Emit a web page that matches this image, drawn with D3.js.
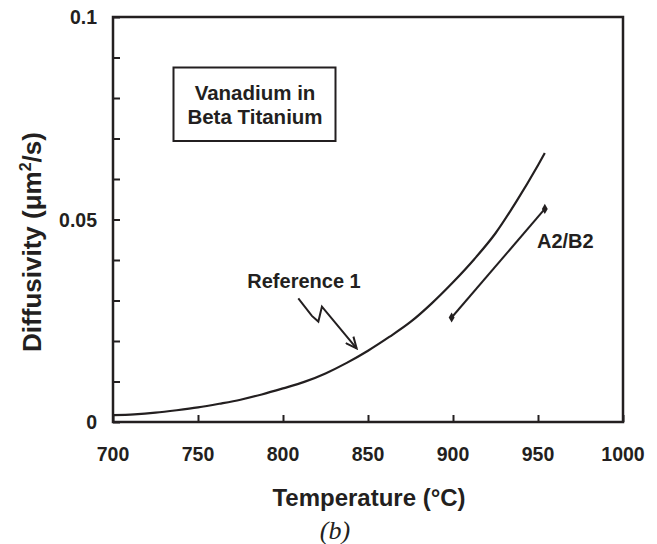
<!DOCTYPE html>
<html><head><meta charset="utf-8">
<script src="https://cdn.jsdelivr.net/npm/d3@7"></script>
<style>body{margin:0;background:#fff}svg{display:block}text{font-family:"Liberation Sans",Arial,sans-serif;font-weight:bold;fill:#231f20}</style>
</head><body>
<script>
const refTemps = [700,712.5,725,737.5,750,762.5,775,787.5,800,812.5,825,837.5,850,862.5,875,887.5,900,912.5,925,937.5,950,954];
const refValues = [0.0017,0.0019,0.0023,0.0029,0.0036,0.0045,0.0055,0.0068,0.0083,0.0099,0.0120,0.0146,0.0176,0.0210,0.0247,0.0293,0.0345,0.0402,0.0466,0.0546,0.0634,0.0664];
const a2b2Temps = [899.2, 954];
const a2b2Values = [0.0258, 0.0526];
const xTicks = [700,750,800,850,900,950,1000];
const yMinorTicks = [0,0.01,0.02,0.03,0.04,0.05,0.06,0.07,0.08,0.09,0.1];
const yLabelTicks = [0,0.05,0.1];
const yTickLabels = ["0","0.05","0.1"];
const arrowTemps = [809,817,820.8,822.9,843.3];
const arrowValues = [0.0305,0.0262,0.0248,0.0285,0.0182];

const W=657,H=544;
const svg=d3.select("body").append("svg").attr("width",W).attr("height",H);
const x=d3.scaleLinear().domain([700,1000]).range([113,623]);
const y=d3.scaleLinear().domain([0,0.1]).range([422,17]);
const ink="#231f20";

const yAxis=d3.axisRight(y).tickValues(yMinorTicks).tickSize(7).tickFormat("");
const gy=svg.append("g").attr("transform","translate(113,0)").call(yAxis);
gy.select(".domain").remove();
gy.selectAll("line").attr("stroke",ink).attr("stroke-width",2);
const xAxis=d3.axisTop(x).tickValues(xTicks).tickSize(7).tickFormat("");
const gx=svg.append("g").attr("transform","translate(0,422)").call(xAxis);
gx.select(".domain").remove();
gx.selectAll("line").attr("stroke",ink).attr("stroke-width",2);

svg.append("rect").attr("x",x(700)).attr("y",y(0.1)).attr("width",x(1000)-x(700)).attr("height",y(0)-y(0.1))
  .attr("fill","none").attr("stroke",ink).attr("stroke-width",2.5);

svg.selectAll(".xl").data(xTicks).enter().append("text").attr("x",d=>x(d)).attr("y",461)
  .attr("text-anchor","middle").attr("font-size",19.5).text(d=>d);
svg.selectAll(".yl").data(yLabelTicks).enter().append("text").attr("x",97).attr("y",d=>y(d)+7)
  .attr("text-anchor","end").attr("font-size",19.5).text((d,i)=>yTickLabels[i]);

svg.append("text").attr("x",369).attr("y",506).attr("text-anchor","middle").attr("font-size",24).text("Temperature (°C)");
const yt=svg.append("text").attr("transform","translate(41,242) rotate(-90)").attr("text-anchor","middle").attr("font-size",26);
yt.append("tspan").text("Diffusivity (μm");
yt.append("tspan").attr("font-size",16).attr("dy",-10).text("2");
yt.append("tspan").attr("dy",10).text("/s)");
svg.append("text").attr("x",335).attr("y",539).attr("text-anchor","middle").attr("font-size",26)
  .style("font-family","'Liberation Serif','Times New Roman',serif").style("font-weight","normal").style("font-style","italic").text("(b)");

const line=d3.line().x(d=>x(d[0])).y(d=>y(d[1])).curve(d3.curveMonotoneX);
svg.append("path").datum(refTemps.map((t,i)=>[t,refValues[i]])).attr("d",line)
  .attr("fill","none").attr("stroke",ink).attr("stroke-width",2.2);

const ab=a2b2Temps.map((t,i)=>[t,a2b2Values[i]]);
svg.append("path").datum(ab).attr("d",d3.line().x(d=>x(d[0])).y(d=>y(d[1])))
  .attr("fill","none").attr("stroke",ink).attr("stroke-width",2);
svg.selectAll(".pt").data(ab).enter().append("path")
  .attr("transform",d=>`translate(${x(d[0])},${y(d[1])})`)
  .attr("d",d3.symbol().type(d3.symbolDiamond).size(30)).attr("fill",ink);
svg.append("text").attr("x",537).attr("y",248).attr("font-size",20).text("A2/B2");

svg.append("rect").attr("x",173.5).attr("y",67.5).attr("width",162).attr("height",73.5)
  .attr("fill","#fff").attr("stroke",ink).attr("stroke-width",2);
svg.append("text").attr("x",255).attr("y",99.5).attr("text-anchor","middle").attr("font-size",20.5).text("Vanadium in");
svg.append("text").attr("x",255).attr("y",123.5).attr("text-anchor","middle").attr("font-size",20.5).text("Beta Titanium");

svg.append("text").attr("x",304).attr("y",288).attr("text-anchor","middle").attr("font-size",20).text("Reference 1");
svg.append("defs").append("marker").attr("id","ah").attr("viewBox","-12 -6 14 12").attr("refX",0).attr("refY",0)
  .attr("markerWidth",14).attr("markerHeight",12).attr("markerUnits","userSpaceOnUse").attr("orient","auto")
  .append("path").attr("d","M-11,-5 L0,0 L-11,5").attr("fill","none").attr("stroke",ink).attr("stroke-width",2);
svg.append("path").datum(arrowTemps.map((t,i)=>[t,arrowValues[i]]))
  .attr("d",d3.line().x(d=>x(d[0])).y(d=>y(d[1])))
  .attr("fill","none").attr("stroke",ink).attr("stroke-width",2).attr("marker-end","url(#ah)");
</script>
</body></html>
